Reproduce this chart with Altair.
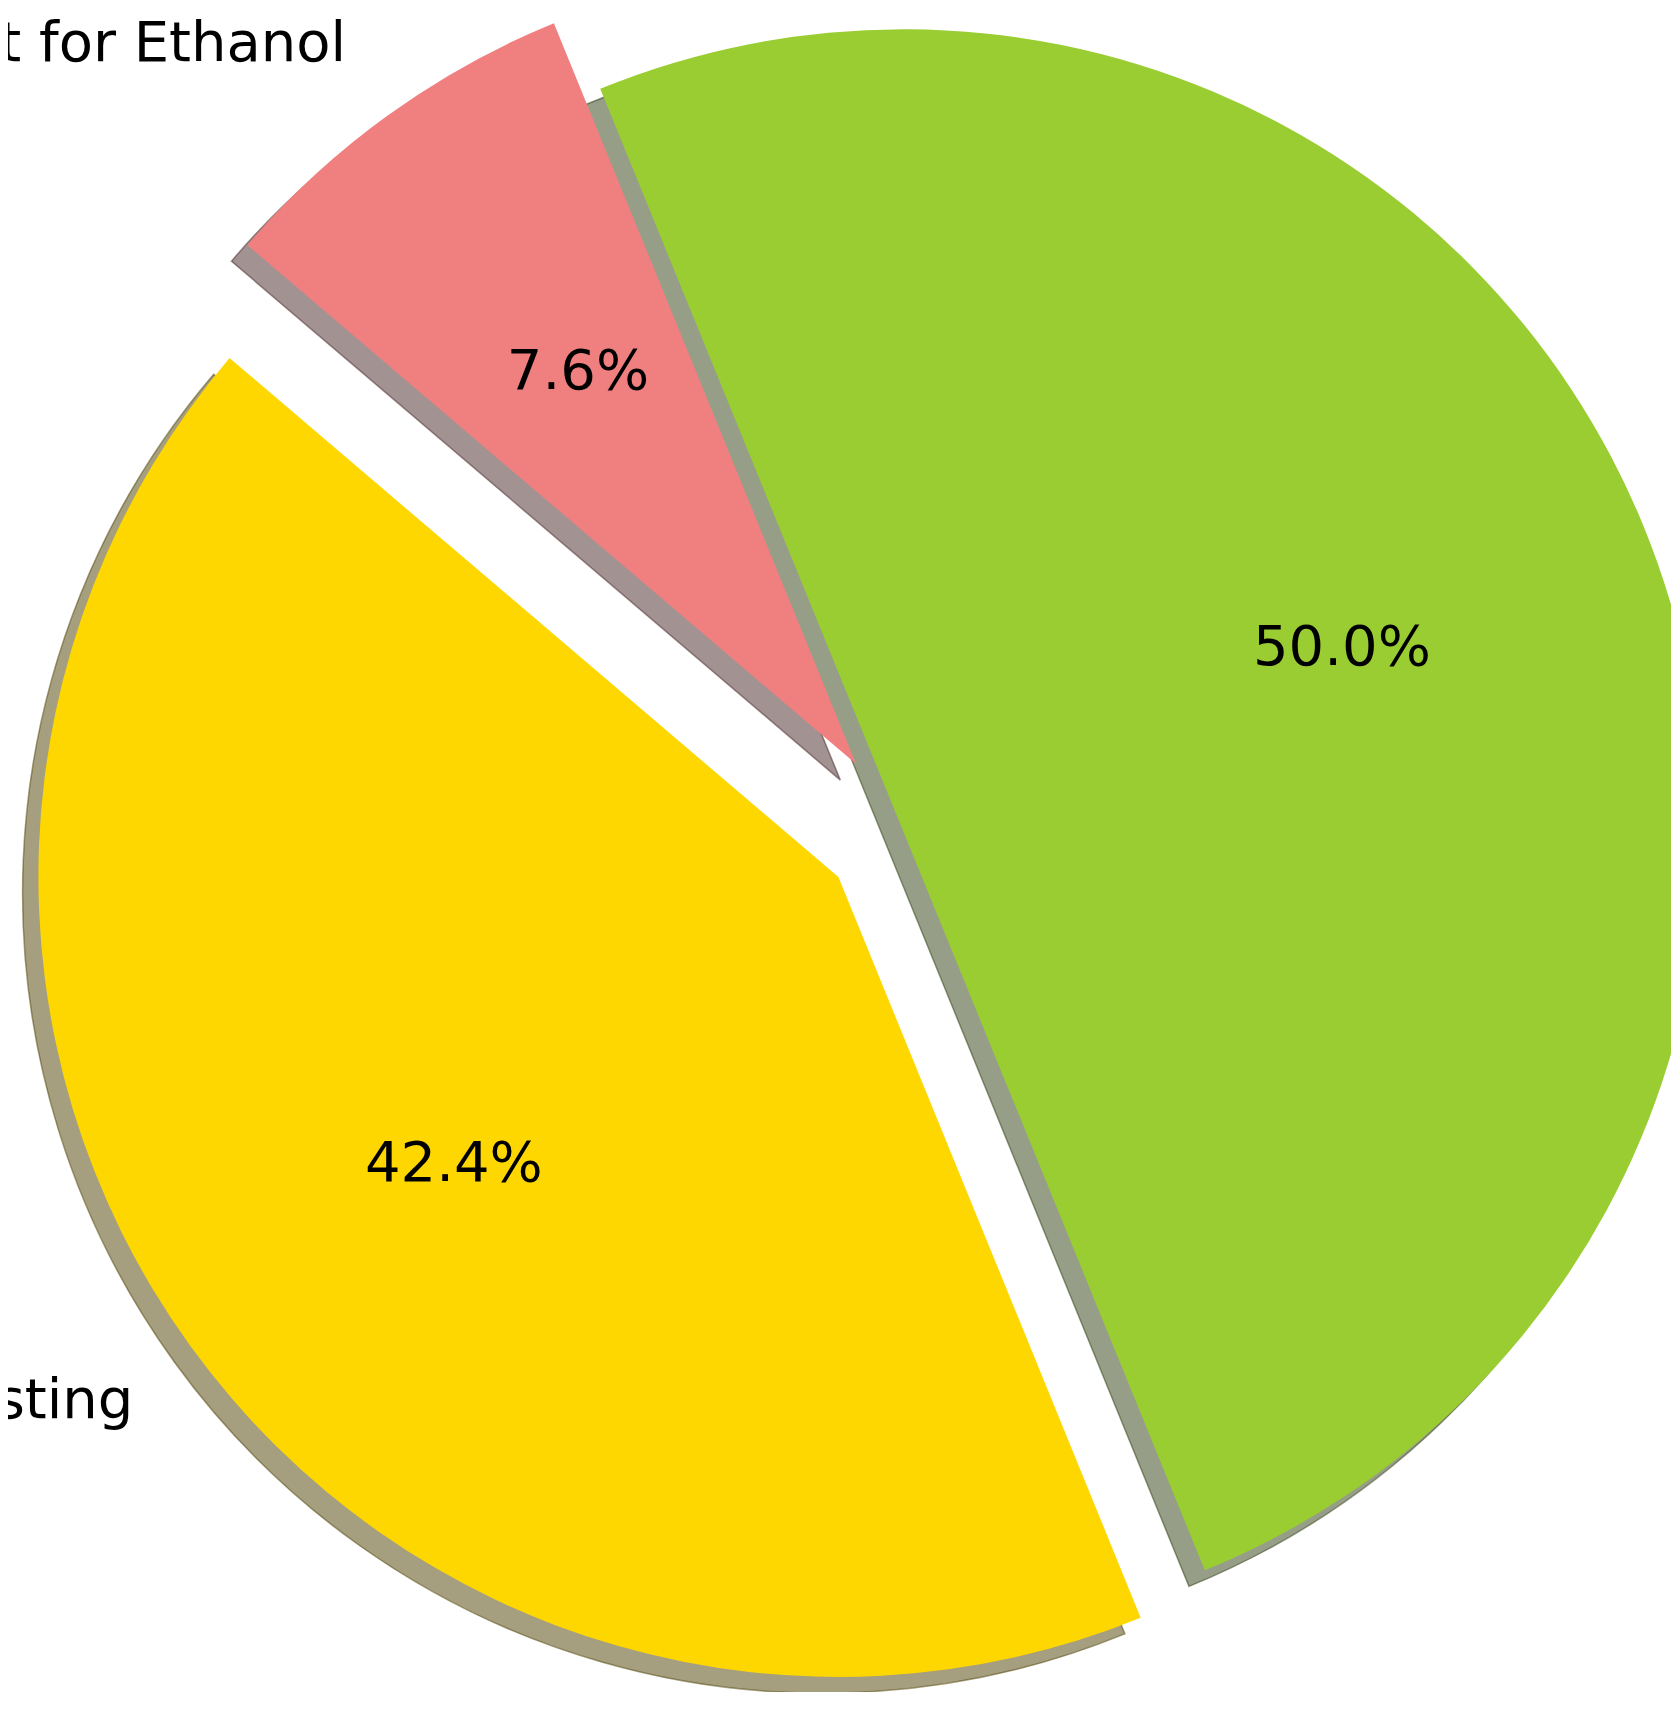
import math
import altair as alt
import pandas as pd

# ---- data ----
labels = ["sting", "t for Ethanol", ""]          # visible label text (cut at the left edge)
values = [42.4, 7.6, 50.0]                        # slice shares, %
explode = [0.1, 0.1, 0.0]                         # explode fraction of radius
colors = ["#FFD700", "#F08080", "#9ACD32"]        # gold, lightcoral, yellowgreen
shadow_colors = ["#4C4000", "#482626", "#2E3D0F"] # 0.3 x face colour, drawn at 50 % alpha

df = pd.DataFrame({"idx": list(range(len(values))), "label": labels,
                   "v": values, "ex": explode})
total = float(sum(values))

# ---- layout ----
W, H = 1663, 1684          # plot area (page offset 8px)
CX, CY = 894.5, 821.5      # pie centre in plot pixels
RX, RY = 791.0, 809.5      # one data unit in pixels (the reference axes are not square)
R = 800.0                  # wedge radius in pixels
START = math.radians(157.8)
FS = 56

xs = alt.Scale(domain=[-CX / RX, (W - CX) / RX], nice=False, zero=False)
ys = alt.Scale(domain=[(CY - H) / RY, CY / RY], nice=False, zero=False)
ts = alt.Scale(domain=[0, total], range=[START, START + 2 * math.pi])

base = (
    alt.Chart(df)
    .transform_window(cum="sum(v)", sort=[alt.SortField("idx")], frame=[None, 0])
    .transform_calculate(
        t0="datum.cum - datum.v",
        t1="datum.cum",
        mid=f"{START} + 2*PI*(datum.cum - datum.v/2)/{total}",
    )
    .transform_calculate(
        cx="datum.ex*sin(datum.mid)",
        cy="datum.ex*cos(datum.mid)",
    )
    .transform_calculate(
        sx="datum.cx - 0.02",
        sy="datum.cy - 0.02",
        lx="datum.cx + 1.1*sin(datum.mid)",
        ly="datum.cy + 1.1*cos(datum.mid)",
        px="datum.cx + 0.6*sin(datum.mid)",
        py="datum.cy + 0.6*cos(datum.mid)",
        pct=f"format(datum.v/{total}*100, '.1f') + '%'",
    )
)

theta = alt.Theta("t0:Q", scale=ts, stack=None)
theta2 = alt.Theta2("t1:Q")

shadow = base.mark_arc(clip=True, fillOpacity=0.5, strokeOpacity=0.5, strokeWidth=1.5).encode(
    x=alt.X("sx:Q", scale=xs, axis=None),
    y=alt.Y("sy:Q", scale=ys, axis=None),
    theta=theta, theta2=theta2,
    radius=alt.value(R),
    fill=alt.Fill("idx:N", scale=alt.Scale(domain=[0, 1, 2], range=shadow_colors), legend=None),
    stroke=alt.Stroke("idx:N", scale=alt.Scale(domain=[0, 1, 2], range=shadow_colors), legend=None),
)

wedges = base.mark_arc(clip=True, strokeWidth=0).encode(
    x=alt.X("cx:Q", scale=xs, axis=None),
    y=alt.Y("cy:Q", scale=ys, axis=None),
    theta=theta, theta2=theta2,
    radius=alt.value(R),
    color=alt.Color("label:N", scale=alt.Scale(domain=labels, range=colors), legend=None),
)

pct = base.mark_text(clip=True, font="DejaVu Sans", fontSize=FS, color="black",
                     align="center", baseline="alphabetic", dy=19).encode(
    x=alt.X("px:Q", scale=xs, axis=None),
    y=alt.Y("py:Q", scale=ys, axis=None),
    text="pct:N",
)

lab_right = base.transform_filter("sin(datum.mid) < 0").mark_text(
    clip=True, font="DejaVu Sans", fontSize=FS, color="black",
    align="right", baseline="alphabetic", dy=19).encode(
    x=alt.X("lx:Q", scale=xs, axis=None),
    y=alt.Y("ly:Q", scale=ys, axis=None),
    text="label:N",
)
lab_left = base.transform_filter("sin(datum.mid) >= 0").mark_text(
    clip=True, font="DejaVu Sans", fontSize=FS, color="black",
    align="left", baseline="alphabetic", dy=19).encode(
    x=alt.X("lx:Q", scale=xs, axis=None),
    y=alt.Y("ly:Q", scale=ys, axis=None),
    text="label:N",
)

chart = (
    alt.layer(shadow, wedges, pct, lab_right, lab_left)
    .properties(width=W, height=H, padding=0, autosize=alt.AutoSizeParams(type="none"),
                background="white")
    .configure_view(stroke=None)
)

chart.save("out.html", embed_options={"renderer": "svg", "actions": False})
